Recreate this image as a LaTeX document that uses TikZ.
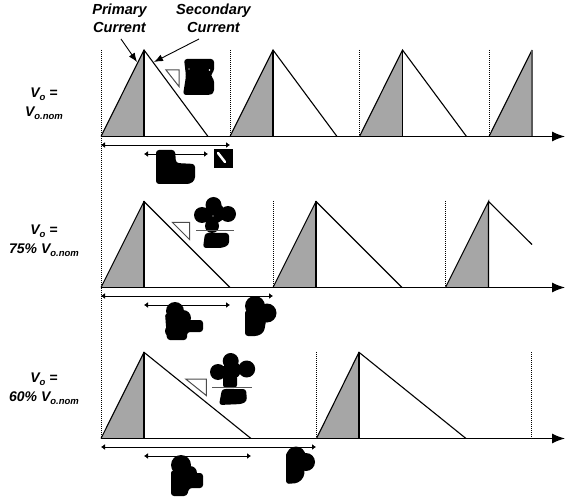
\documentclass[tikz,border=0pt]{standalone}
\usepackage{fontspec}
\setmainfont{Liberation Sans}
\usetikzlibrary{arrows.meta}
\definecolor{primfill}{RGB}{166,166,166}
\newcommand{\sbs}[1]{\raisebox{-0.2em}{\fontsize{9.5}{10}\selectfont #1}}
\tikzset{
 lbl/.style={font=\bfseries\itshape\fontsize{14.6}{18}\selectfont,align=center,inner sep=0pt},
 sidelbl/.style={font=\bfseries\itshape\fontsize{14}{19}\selectfont,align=center,inner sep=0pt},
 wave/.style={draw=black,line width=1.1pt,line join=miter},
 axisline/.style={draw=black,line width=1.1pt,-{Latex[length=13pt,width=10pt]}},
 dots/.style={draw=black,line width=0.8pt,dash pattern=on 1pt off 1pt},
 dim/.style={draw=black,line width=0.9pt,{Latex[length=4pt,width=6pt]}-{Latex[length=4pt,width=6pt]}},
 call/.style={draw=black,line width=0.9pt,-{Latex[length=9pt,width=7pt]}},
 slope/.style={draw=black!70,line width=1pt},
 bar/.style={draw=black!65,line width=1pt},
 blob/.style={fill=black,draw=none,rounded corners=3pt}
}
\newcommand{\pulse}[5]{%
 \fill[primfill] (#1,#4) -- (#2,#5) -- (#2,#4) -- cycle;
 \draw[wave] (#1,#4) -- (#2,#5) -- (#3,#4);
 \draw[wave] (#2,#5) -- (#2,#4);
}
\begin{document}
\begin{tikzpicture}[x=1pt,y=-1pt]
\useasboundingbox (0,0) rectangle (565,497);
% labels
\node[lbl] (p) at (119.5,18) {Primary\\Current};
\node[lbl] (s) at (213.5,18) {Secondary\\Current};
\node[sidelbl] (a) at (44,103.5) {V\sbs{o} =\\V\sbs{o.nom}};
\node[sidelbl] (b) at (44,241) {V\sbs{o} =\\75\% V\sbs{o.nom}};
\node[sidelbl] (c) at (44,388.5) {V\sbs{o} =\\60\% V\sbs{o.nom}};
% dotted markers
\draw[dots] (101,50) -- (101,438);
\foreach \x in {230,359.5,489} \draw[dots] (\x,50) -- (\x,136.5);
\foreach \x in {273,445.5} \draw[dots] (\x,201) -- (\x,287.5);
\foreach \x in {316.5,531} \draw[dots] (\x,352) -- (\x,438.5);
% row 1
\pulse{101}{144}{208}{136.5}{50}
\pulse{230}{273}{337}{136.5}{50}
\pulse{359.5}{402.5}{466.5}{136.5}{50}
\fill[primfill] (489,136.5) -- (532,50) -- (532,136.5) -- cycle;
\draw[wave] (489,136.5) -- (532,50);
\draw[draw=black!65,line width=1.1pt] (532,50) -- (532,136.5);
\coordinate (a0) at (101,136.5); \coordinate (a1) at (565,136.5);
\draw[axisline] (a0) -- (a1);
% row 2
\pulse{101}{144}{230}{287.5}{201.5}
\pulse{273}{316}{402}{287.5}{201.5}
\pulse{445.5}{488.5}{488.5}{287.5}{201.5}
\draw[wave] (488.5,201.5) -- (532,244.5);
\coordinate (b0) at (101,287.5); \coordinate (b1) at (565,287.5);
\draw[axisline] (b0) -- (b1);
% row 3
\pulse{101}{144}{251}{438.5}{352.3}
\pulse{316.5}{359}{466}{438.5}{352.3}
\coordinate (c0) at (101,438.5); \coordinate (c1) at (565,438.5);
\draw[axisline] (c0) -- (c1);
% callouts
\coordinate (pa) at (121,39); \coordinate (pb) at (137,62);
\coordinate (sa) at (199,39); \coordinate (sb) at (154,62);
\draw[call] (pa) -- (pb);
\draw[call] (sa) -- (sb);
% dimension arrows
\coordinate (d1a) at (101,145); \coordinate (d1b) at (230,145);
\coordinate (d2a) at (144,154); \coordinate (d2b) at (208,154);
\coordinate (d3a) at (101,296); \coordinate (d3b) at (273,296);
\coordinate (d4a) at (144,305); \coordinate (d4b) at (230,305);
\coordinate (d5a) at (101,447); \coordinate (d5b) at (316,447);
\coordinate (d6a) at (144,456); \coordinate (d6b) at (251,456);
\foreach \u/\v in {d1a/d1b,d2a/d2b,d3a/d3b,d4a/d4b,d5a/d5b,d6a/d6b} \draw[dim] (\u) -- (\v);
% slope triangles
\draw[slope] (166,70) -- (179,70) -- (179,86.5) -- cycle;
\draw[slope] (172.5,222.5) -- (189.5,222.5) -- (189.5,239.5) -- cycle;
\draw[slope] (185.7,379) -- (206.4,379) -- (206.4,395.6) -- cycle;
% illegible glyph blots, row 1
\fill[blob] (184,59) -- (214,59) -- (214,72) -- (210,75) -- (214,79) -- (214,93) -- (210,95) -- (183,95) -- (186,76) -- cycle;
\fill[white] (189,69) circle (0.6) (209.5,70) circle (0.8);
\fill[blob] (156,150) -- (175,150) -- (176,163) -- (195,164) -- (195,180) -- (190,184) -- (156,184) -- cycle;
\fill[black] (214,149) rectangle (233,168);
\draw[white,line width=2.5pt,line cap=round] (218,153) -- (225,162);
% row 2 blots
\fill[black] (213.5,205) circle (8) (202,215) circle (8) (228,214) circle (8) (215,213) circle (10) (212,226) circle (7);
\fill[blob] (205,233) -- (229,233) -- (229,245) -- (222,248) -- (203,248) -- cycle;
\draw[bar] (196,230.7) -- (234,230.7);
\fill[white] (213,216) circle (0.6);
\fill[black] (175,311) circle (9) (183,318) circle (8) (171,331) circle (6);
\fill[blob] (165,313) -- (185,320) -- (203,320) -- (203,332) -- (187,332) -- (187,340) -- (167,340) -- cycle;
\fill[black] (255,306) circle (10) (267,313) circle (9.5);
\fill[blob] (245,310) -- (268,310) -- (264,332) -- (258,336) -- (245,336) -- cycle;
% row 3 blots
\fill[black] (230.7,361) circle (8) (218,372) circle (8) (246.7,369) circle (8.5) (232,370) circle (9);
\fill[blob] (223,375) -- (237,375) -- (237,388) -- (223,388) -- cycle;
\draw[bar] (212,387) -- (252,387);
\fill[blob] (222,389) -- (246,389) -- (247,401) -- (242,404) -- (219,405) -- cycle;
\fill[black] (181,465) circle (10) (190,473) circle (7);
\fill[blob] (171,470) -- (190,473) -- (203,473) -- (203,488) -- (189,488) -- (187,496) -- (171,496) -- cycle;
\fill[black] (296,456) circle (9.5) (306,462) circle (9);
\fill[blob] (286,452) -- (306,452) -- (304,477) -- (298,483) -- (286,484) -- cycle;
\end{tikzpicture}
\end{document}
